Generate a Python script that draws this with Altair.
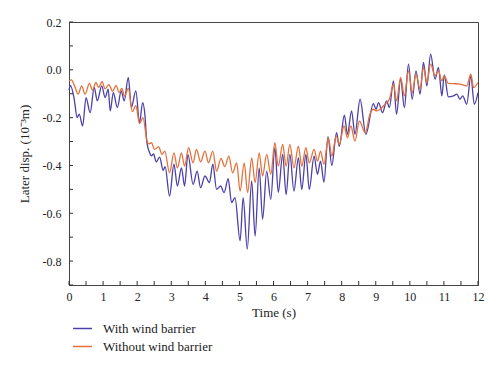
import altair as alt
import pandas as pd

# With wind barrier (t in s, lateral displacement in 10^-3 m)
with_t = [0.00, 0.04, 0.15, 0.24, 0.30, 0.40, 0.50, 0.62, 0.74, 0.83, 0.96, 1.06, 1.15, 1.21, 1.30,
          1.42, 1.53, 1.62, 1.74, 1.83, 1.96, 2.07, 2.16, 2.23, 2.28, 2.36, 2.42, 2.48, 2.56, 2.66,
          2.76, 2.82, 2.95, 3.08, 3.18, 3.30, 3.39, 3.49, 3.64, 3.76, 3.86, 3.99, 4.12, 4.22, 4.33,
          4.45, 4.55, 4.67, 4.77, 4.87, 5.02, 5.11, 5.23, 5.36, 5.46, 5.58, 5.68, 5.80, 5.92, 6.04,
          6.14, 6.27, 6.37, 6.48, 6.60, 6.73, 6.83, 6.95, 7.05, 7.19, 7.29, 7.38, 7.48, 7.60, 7.71,
          7.85, 7.93, 8.08, 8.17, 8.29, 8.39, 8.54, 8.71, 8.93, 9.01, 9.08, 9.20, 9.32, 9.40, 9.52,
          9.61, 9.73, 9.84, 9.96, 10.07, 10.18, 10.30, 10.40, 10.50, 10.61, 10.74, 10.84, 10.94,
          11.01, 11.13, 11.28, 11.38, 11.47, 11.55, 11.67, 11.79, 11.89, 12.00]
with_v = [-0.085, -0.065, -0.120, -0.200, -0.185, -0.235, -0.116, -0.179, -0.074, -0.130, -0.067,
          -0.116, -0.081, -0.172, -0.095, -0.158, -0.088, -0.130, -0.032, -0.158, -0.088, -0.221,
          -0.137, -0.193, -0.298, -0.345, -0.360, -0.352, -0.385, -0.365, -0.420, -0.405, -0.528,
          -0.395, -0.486, -0.410, -0.486, -0.354, -0.479, -0.424, -0.493, -0.444, -0.472, -0.395,
          -0.500, -0.486, -0.514, -0.455, -0.555, -0.535, -0.715, -0.535, -0.750, -0.465, -0.695,
          -0.410, -0.625, -0.424, -0.542, -0.326, -0.512, -0.354, -0.522, -0.354, -0.507, -0.368,
          -0.500, -0.354, -0.500, -0.361, -0.437, -0.382, -0.470, -0.280, -0.400, -0.263, -0.320,
          -0.190, -0.270, -0.172, -0.270, -0.123, -0.270, -0.141, -0.165, -0.137, -0.179, -0.130,
          -0.158, -0.046, -0.186, -0.039, -0.158, 0.024, -0.123, -0.004, -0.102, 0.031, -0.067,
          0.066, -0.039, 0.010, -0.109, -0.021, -0.113, -0.109, -0.102, -0.123, -0.109, -0.144,
          -0.025, -0.144, -0.095]

# Without wind barrier
without_t = [0.00, 0.07, 0.17, 0.27, 0.37, 0.47, 0.60, 0.69, 0.79, 0.87, 0.97, 1.06, 1.17, 1.28,
             1.38, 1.47, 1.55, 1.63, 1.74, 1.86, 1.96, 2.07, 2.17, 2.29, 2.34, 2.42, 2.51, 2.63,
             2.73, 2.81, 2.95, 3.08, 3.18, 3.30, 3.39, 3.51, 3.64, 3.74, 3.86, 3.99, 4.09, 4.22,
             4.33, 4.46, 4.57, 4.69, 4.80, 4.92, 5.02, 5.14, 5.24, 5.36, 5.46, 5.58, 5.68, 5.80,
             5.92, 6.04, 6.14, 6.27, 6.37, 6.48, 6.60, 6.73, 6.83, 6.95, 7.05, 7.19, 7.29, 7.38,
             7.48, 7.61, 7.71, 7.84, 7.93, 8.07, 8.17, 8.27, 8.39, 8.52, 8.69, 8.83, 8.93, 9.03,
             9.13, 9.27, 9.40, 9.52, 9.61, 9.73, 9.84, 9.96, 10.07, 10.18, 10.30, 10.40, 10.50,
             10.61, 10.74, 10.84, 10.94, 11.01, 11.13, 11.30, 11.47, 11.67, 11.79, 11.87, 12.00]
without_v = [-0.046, -0.042, -0.070, -0.102, -0.067, -0.102, -0.057, -0.085, -0.053, -0.074,
             -0.050, -0.080, -0.062, -0.090, -0.065, -0.095, -0.078, -0.110, -0.078, -0.175,
             -0.150, -0.225, -0.200, -0.298, -0.310, -0.305, -0.333, -0.322, -0.354, -0.340,
             -0.431, -0.347, -0.410, -0.347, -0.403, -0.326, -0.389, -0.333, -0.385, -0.340,
             -0.389, -0.340, -0.424, -0.370, -0.405, -0.361, -0.431, -0.389, -0.507, -0.389,
             -0.514, -0.368, -0.472, -0.347, -0.444, -0.354, -0.437, -0.305, -0.403, -0.312,
             -0.403, -0.312, -0.410, -0.319, -0.403, -0.326, -0.389, -0.333, -0.382, -0.340,
             -0.395, -0.284, -0.361, -0.277, -0.312, -0.235, -0.285, -0.235, -0.298, -0.214,
             -0.263, -0.186, -0.165, -0.172, -0.165, -0.144, -0.123, -0.060, -0.130, -0.032,
             -0.109, -0.004, -0.095, -0.018, -0.081, 0.010, -0.053, 0.024, -0.025, -0.004,
             -0.046, -0.025, -0.057, -0.058, -0.060, -0.067, -0.018, -0.074, -0.053]

series_names = ["With wind barrier", "Without wind barrier"]
series_colors = ["#4B40A8", "#E4703A"]

x_ticks = [i * 0.5 for i in range(25)]
y_ticks = [round(-0.9 + i * 0.1, 1) for i in range(12)]
x_labels = list(range(13))
y_labels = [-0.8, -0.6, -0.4, -0.2, 0.0, 0.2]

df = pd.concat([
    pd.DataFrame({"t": with_t, "v": with_v, "s": series_names[0], "o": 0}),
    pd.DataFrame({"t": without_t, "v": without_v, "s": series_names[1], "o": 1}),
])

FONT = "Liberation Serif"
W, H = 409, 263

xs = alt.Scale(domain=[0, 12], nice=False, zero=False)
ys = alt.Scale(domain=[-0.9, 0.2], nice=False, zero=False)

x_axis = alt.Axis(values=x_labels, format="d", tickSize=0, labelPadding=6,
                  titlePadding=4, grid=False, labelOverlap=False, labelFlush=False)
y_axis = alt.Axis(values=y_labels, tickSize=0, labelPadding=8, titlePadding=11,
                  grid=False, labelOverlap=False, labelFlush=False,
                  labelExpr="replace(format(datum.value, '.1f'), '\u2212', '-')")
X_TITLE = "Time (s)"
Y_TITLE = "Later disp. (10⁻³m)"

lines = alt.Chart(df).mark_line(interpolate="monotone", strokeWidth=1.3).encode(
    x=alt.X("t:Q", scale=xs, title=X_TITLE, axis=x_axis),
    y=alt.Y("v:Q", scale=ys, title=Y_TITLE, axis=y_axis),
    color=alt.Color("s:N", scale=alt.Scale(domain=series_names, range=series_colors),
                    legend=alt.Legend(title=None, orient="none", legendX=3, legendY=296,
                                      symbolType="stroke", symbolSize=361,
                                      symbolStrokeWidth=1.5, labelFont=FONT,
                                      labelFontSize=13, labelOffset=10, rowPadding=0,
                                      padding=0, labelColor="#222")),
    order="o:Q",
    detail="s:N",
)

xt = alt.Chart(pd.DataFrame({"t": x_ticks})).mark_rule(color="#333", strokeWidth=1).encode(
    x=alt.X("t:Q", scale=xs, title=X_TITLE, axis=x_axis),
    y=alt.value(H), y2=alt.value(H - 4))
yt = alt.Chart(pd.DataFrame({"v": y_ticks})).mark_rule(color="#333", strokeWidth=1).encode(
    y=alt.Y("v:Q", scale=ys, title=Y_TITLE, axis=y_axis),
    x=alt.value(0), x2=alt.value(4))

chart = alt.layer(lines, xt, yt).properties(
    width=W, height=H,
    autosize=alt.AutoSizeParams(type="none"),
    padding={"left": 61, "top": 14, "right": 14, "bottom": 72},
).configure_view(stroke="#444", strokeWidth=1).configure_axis(
    domainColor="#444", domainWidth=1, labelFont=FONT, titleFont=FONT,
    labelFontSize=12, titleFontSize=13, labelColor="#222", titleColor="#222",
    titleFontWeight="normal",
)

chart.save("out.html", embed_options={"renderer": "svg", "actions": False})
